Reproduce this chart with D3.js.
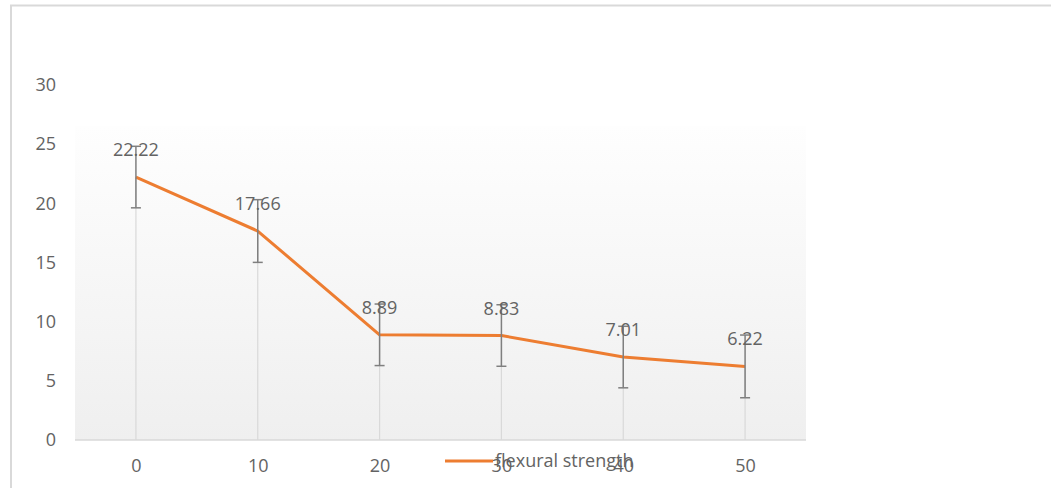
<!DOCTYPE html>
<html><head><meta charset="utf-8">
<script src="https://cdn.jsdelivr.net/npm/d3@7"></script>
<style>body{margin:0;background:#fff;}svg{display:block;font-family:"Open Sans",sans-serif;}</style>
</head><body>
<svg id="c" width="1051" height="488"></svg>
<script>
const categories = ["0","10","20","30","40","50"];
const values = [22.22, 17.66, 8.89, 8.83, 7.01, 6.22];
const errors = [2.6, 2.65, 2.6, 2.6, 2.6, 2.65];
const yTicks = [0,5,10,15,20,25,30];
const seriesName = "flexural strength";

(function(){
const svg = d3.select("#c");
const FONT = "'Open Sans',sans-serif", FS = "18px", TXT = "#636363";
const pLeft = 75, pRight = 806, pTop = 85, pBottom = 440;
const x = d3.scalePoint().domain(categories).range([pLeft, pRight]).padding(0.5);
const y = d3.scaleLinear().domain([0, 30]).range([pBottom, pTop]);

// outer frame
svg.append("line").attr("x1",10).attr("x2",1051).attr("y1",5.5).attr("y2",5.5).attr("stroke","#d9d9d9").attr("stroke-width",2);
svg.append("line").attr("x1",11).attr("x2",11).attr("y1",5).attr("y2",488).attr("stroke","#d9d9d9").attr("stroke-width",2);

// plot area gradient
const defs = svg.append("defs");
const g = defs.append("linearGradient").attr("id","bg").attr("x1",0).attr("y1",0).attr("x2",0).attr("y2",1);
g.append("stop").attr("offset","0").attr("stop-color","#fefefe");
g.append("stop").attr("offset","1").attr("stop-color","#efefef");
svg.append("rect").attr("x",pLeft).attr("y",126).attr("width",pRight-pLeft).attr("height",pBottom-126).attr("fill","url(#bg)");

// axes
const yAxis = d3.axisLeft(y).tickValues(yTicks).tickSize(0).tickPadding(0);
const ya = svg.append("g").attr("transform",`translate(56,0)`).call(yAxis);
ya.select(".domain").remove();
ya.selectAll("text").attr("fill",TXT).style("font-size",FS).style("font-family",FONT);

const xAxis = d3.axisBottom(x).tickSize(0).tickPadding(0);
const xa = svg.append("g").attr("transform",`translate(0,${pBottom+19})`).call(xAxis);
xa.select(".domain").remove();
xa.selectAll("text").attr("fill",TXT).style("font-size",FS).style("font-family",FONT);

svg.append("line").attr("x1",pLeft).attr("x2",pRight).attr("y1",pBottom).attr("y2",pBottom).attr("stroke","#d9d9d9").attr("stroke-width",1.5);

// drop lines
svg.append("g").selectAll("line").data(values).join("line")
  .attr("x1",(d,i)=>x(categories[i])).attr("x2",(d,i)=>x(categories[i]))
  .attr("y1",d=>y(d)).attr("y2",pBottom)
  .attr("stroke","#d9d9d9").attr("stroke-width",1.2);

// line
const line = d3.line().x((d,i)=>x(categories[i])).y(d=>y(d));
svg.append("path").datum(values).attr("d",line).attr("fill","none").attr("stroke","#ED7D31").attr("stroke-width",3).attr("stroke-linejoin","round");

// error bars
const eb = svg.append("g").attr("stroke","#7f7f7f").attr("stroke-width",1.5);
values.forEach((v,i)=>{
  const cx = x(categories[i]);
  eb.append("line").attr("x1",cx).attr("x2",cx).attr("y1",y(v+errors[i])).attr("y2",y(v-errors[i]));
  eb.append("line").attr("x1",cx-5).attr("x2",cx+5).attr("y1",y(v+errors[i])).attr("y2",y(v+errors[i]));
  eb.append("line").attr("x1",cx-5).attr("x2",cx+5).attr("y1",y(v-errors[i])).attr("y2",y(v-errors[i]));
});

// data labels
svg.append("g").selectAll("text").data(values).join("text")
  .attr("x",(d,i)=>x(categories[i])).attr("y",d=>y(d)-21)
  .attr("text-anchor","middle").attr("fill",TXT).style("font-size",FS).style("font-family",FONT)
  .text(d=>d.toFixed(2));

// legend
svg.append("line").attr("x1",445).attr("x2",493).attr("y1",461).attr("y2",461).attr("stroke","#ED7D31").attr("stroke-width",3);
svg.append("text").attr("x",495).attr("y",467).attr("fill",TXT).style("font-size",FS).style("font-family",FONT).text(seriesName);
})();
</script>
</body></html>
